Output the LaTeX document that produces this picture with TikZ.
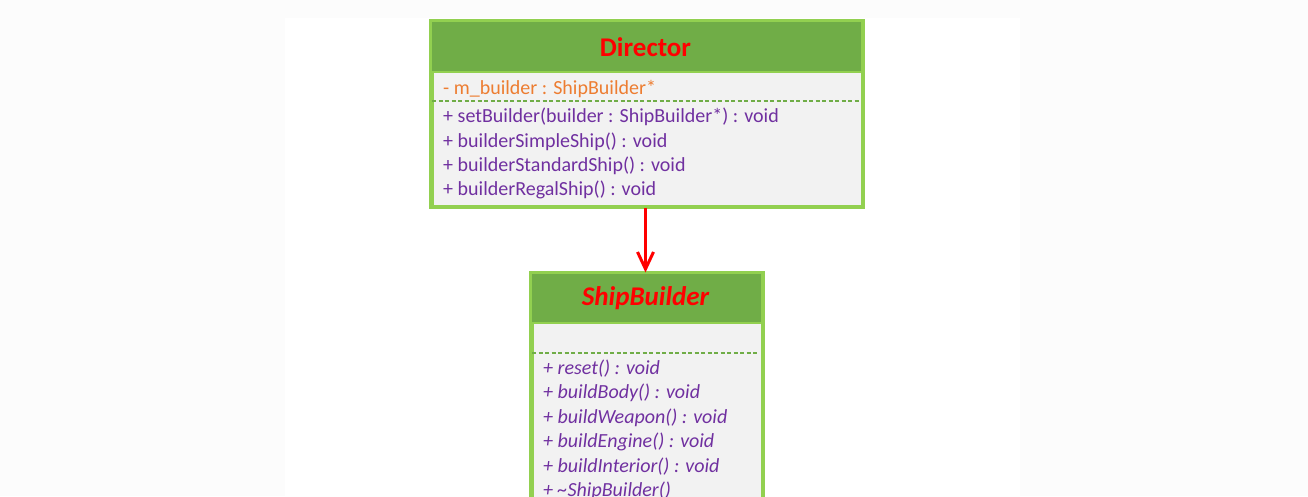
\documentclass[tikz,border=0pt]{standalone}
\usepackage{fontspec}
\setmainfont{Carlito}
\usetikzlibrary{arrows.meta}
\definecolor{hdr}{HTML}{70AD47}
\definecolor{brd}{HTML}{92D050}
\definecolor{bodyc}{HTML}{F2F2F2}
\definecolor{attrc}{HTML}{ED7D31}
\definecolor{methc}{HTML}{7030A0}
\definecolor{pagebg}{HTML}{FCFCFC}
\tikzset{
  bodybox/.style={draw=brd, line width=3pt, fill=bodyc, anchor=north west, inner sep=0pt},
  headbox/.style={fill=hdr, anchor=north west, inner sep=0pt},
  titletext/.style={text=red, font=\fontsize{27}{32}\selectfont\bfseries, inner sep=0pt},
  attrtext/.style={text=attrc, font=\fontsize{20}{24}\selectfont, anchor=west, inner sep=0pt},
  methtext/.style={text=methc, font=\fontsize{20}{24}\selectfont, anchor=west, inner sep=0pt},
  imethtext/.style={methtext, font=\fontsize{20}{24}\selectfont\itshape},
  sepline/.style={draw=brd, line width=2pt},
  dashline/.style={draw=hdr, line width=1.5pt, dash pattern=on 4pt off 2.5pt},
  assoc/.style={draw=red, line width=3pt, -{Straight Barb[length=17pt,width=16pt,line width=3pt]}}
}
\begin{document}
\begin{tikzpicture}[x=1pt,y=-1pt]
\useasboundingbox (0,0) rectangle (1308,496);
\clip (0,0) rectangle (1308,496);
\fill[pagebg] (0,0) rectangle (1308,496);
\fill[white] (285,18) rectangle (1020,496);

% Director
\node[bodybox, minimum width=430pt, minimum height=184pt] (dir) at (430.5,20.5) {};
\node[headbox, minimum width=430pt, minimum height=51.5pt] (dirhead) at (430.5,20.5) {};
\draw[sepline] (dirhead.south west) -- (dirhead.south east);
\draw[draw=brd, line width=3pt] (dir.north west) rectangle (dir.south east);
\node[titletext] (dirtitle) at (645.5,47) {Director};
\node[attrtext] (dattr) at (443,89) {- m\_builder : ShipBuilder*};
\coordinate (dsl) at (432,101);
\coordinate (dsr) at (859,101);
\draw[dashline] (dsl) -- (dsr);
\node[methtext] (dm1) at (443,117) {+ setBuilder(builder : ShipBuilder*) : void};
\node[methtext] (dm2) at (443,141.5) {+ builderSimpleShip() : void};
\node[methtext] (dm3) at (443,166) {+ builderStandardShip() : void};
\node[methtext] (dm4) at (443,190) {+ builderRegalShip() : void};

% ShipBuilder
\node[bodybox, minimum width=230pt, minimum height=300pt] (sb) at (530.5,272.5) {};
\node[headbox, minimum width=230pt, minimum height=50.5pt] (sbhead) at (530.5,272.5) {};
\draw[sepline] (sbhead.south west) -- (sbhead.south east);
\draw[draw=brd, line width=3pt] (sb.north west) rectangle (sb.south east);
\node[titletext, font=\fontsize{27}{32}\selectfont\bfseries\itshape] (sbtitle) at (645.5,298) {ShipBuilder};
\coordinate (ssl) at (532,353);
\coordinate (ssr) at (759,353);
\draw[dashline] (ssl) -- (ssr);
\node[imethtext] (sm1) at (543,369) {+ reset() : void};
\node[imethtext] (sm2) at (543,393) {+ buildBody() : void};
\node[imethtext] (sm3) at (543,418) {+ buildWeapon() : void};
\node[imethtext] (sm4) at (543,442) {+ buildEngine() : void};
\node[imethtext] (sm5) at (543,467) {+ buildInterior() : void};
\node[imethtext] (sm6) at (543,491) {+ \textasciitilde ShipBuilder()};

% association
\draw[assoc] (dir.south -| dirtitle) -- (sb.north -| dirtitle);
\end{tikzpicture}
\end{document}
